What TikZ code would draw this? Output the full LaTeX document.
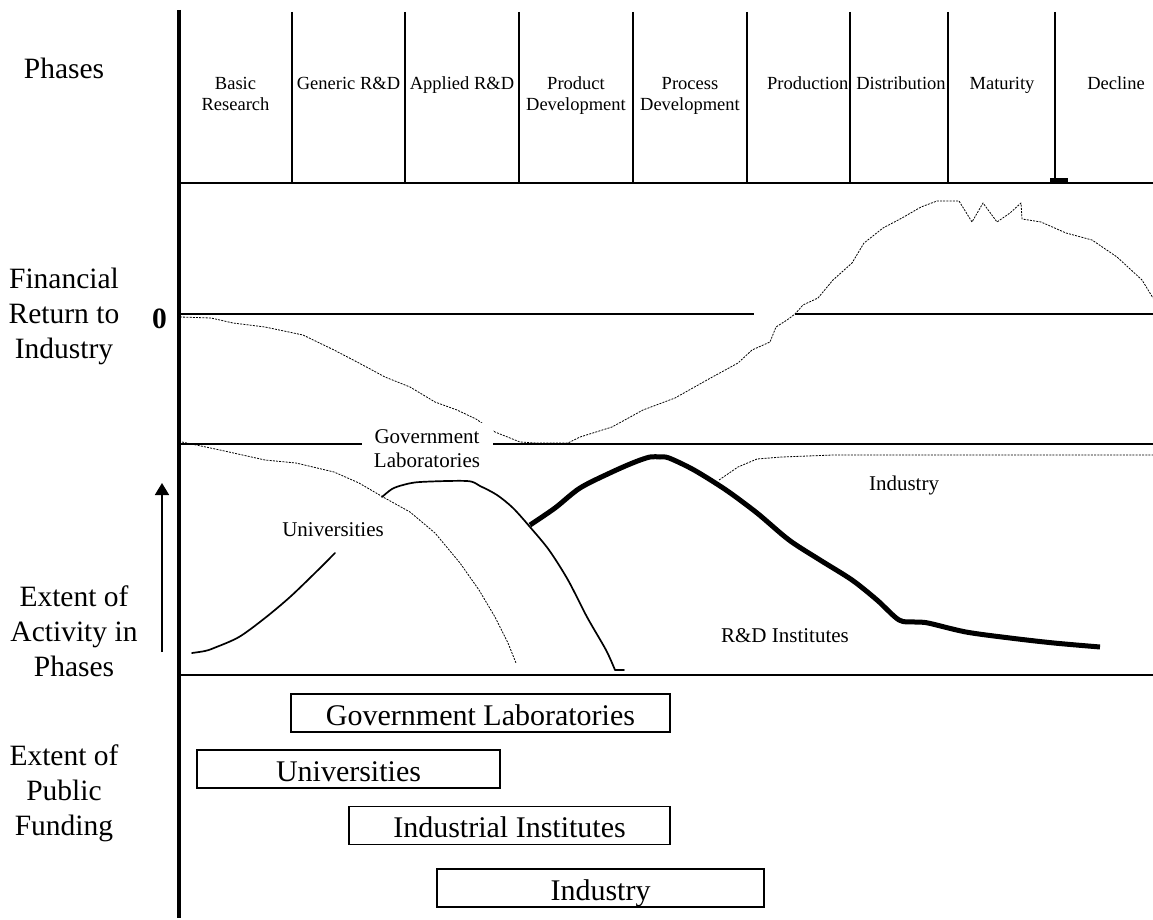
\documentclass[tikz,border=0pt]{standalone}
\usepackage{fontspec}
\setmainfont{Liberation Serif}
\usetikzlibrary{arrows.meta}
\begin{document}
\begin{tikzpicture}[x=1pt,y=-1pt,
  axisline/.style={line width=4pt},
  panelline/.style={line width=2.6pt},
  divline/.style={line width=2pt},
  fincurve/.style={line width=0.8pt, dash pattern=on 2pt off 1.2pt, line join=round},
  solidcurve/.style={line width=1.7pt, line join=round, line cap=round},
  thickcurve/.style={line width=5pt, line join=round},
  phaselbl/.style={inner sep=0pt, align=center, font=\fontsize{18.5}{21.7}\selectfont, anchor=north},
  sidelbl/.style={inner sep=0pt, align=center, font=\fontsize{29.5}{35}\selectfont, anchor=north},
  curvelbl/.style={inner sep=0pt, font=\fontsize{21}{24}\selectfont, anchor=base},
  fundbox/.style={draw, line width=1.4pt, inner sep=0pt, minimum height=38pt, text height=24pt, text depth=0pt, font=\fontsize{30}{30}\selectfont}
]
\useasboundingbox (0,0) rectangle (1153,920);

% main axis and panel lines
\draw[axisline] (179,10) -- (179,918);
\draw[panelline] (179,183) -- (1153,183);
\draw[panelline] (179,314) -- (754,314);
\draw[panelline] (795,314) -- (1153,314);
\draw[panelline] (179,444) -- (1153,444);
\draw[panelline] (179,675) -- (1153,675);

% phase dividers
\foreach \xx in {292,405,519,633,747,850,948,1055}
  \draw[divline] (\xx,12) -- (\xx,183);
\fill (1050,178) rectangle (1068,184);

% phase labels
\node[phaselbl] (basic) at (235.5,73.8) {\strut Basic\\Research};
\node[phaselbl] (generic) at (348.5,73.8) {\strut Generic R\&D};
\node[phaselbl] (applied) at (462,73.8) {\strut Applied R\&D};
\node[phaselbl] (product) at (576,73.8) {\strut Product\\Development};
\node[phaselbl] (process) at (690,73.8) {\strut Process\\Development};
\begin{scope}
  \clip (748,20) rectangle (848.6,180);
  \node[phaselbl, anchor=north west] (production) at (767,73.8) {\strut Production};
\end{scope}
\node[phaselbl] (distribution) at (901,73.8) {\strut Distribution};
\node[phaselbl] (maturity) at (1002,73.8) {\strut Maturity};
\node[phaselbl] (decline) at (1116,73.8) {\strut Decline};

% side labels
\node[inner sep=0pt, font=\fontsize{29.5}{35}\selectfont, anchor=base] (phases) at (64,79) {Phases};
\node[sidelbl] (financial) at (64,263.5) {\strut Financial\\Return to\\Industry};
\node[inner sep=0pt, font=\fontsize{29.5}{35}\bfseries\selectfont, anchor=base] (zero) at (159.5,328) {0};
\node[sidelbl] (activity) at (74,582.2) {\strut Extent of\\Activity in\\Phases};
\node[sidelbl] (funding) at (64,740.5) {\strut Extent of\\Public\\Funding};

% activity arrow
\coordinate (arrS) at (162,652);
\coordinate (arrE) at (162,483);
\draw[line width=1.8pt, -{Triangle[width=14pt,length=12pt]}] (arrS) -- (arrE);

% financial return curve
\draw[fincurve] (180,317) -- (211,318) -- (233,323) -- (265,327) -- (303,335) -- (334,350) -- (359,363) -- (385,377) -- (410,387) -- (435,402) -- (457,410) -- (476,419) -- (495,432) -- (520,442) -- (536,443) -- (568,443) -- (580,437) -- (612,427) -- (643,410) -- (675,398) -- (707,380) -- (738,363) -- (752,350) -- (770,342) -- (776,327) -- (787,320) -- (795,314) -- (803,305) -- (818,298) -- (833,280) -- (852,263) -- (864,243) -- (883,228) -- (902,218) -- (921,207) -- (937,201) -- (959,201) -- (972,222) -- (983,203) -- (997,222) -- (1010,213) -- (1021,203) -- (1022,219) -- (1041,222) -- (1066,233) -- (1092,240) -- (1117,257) -- (1142,280) -- (1153,298);

% universities dashed curve
\draw[fincurve] (182,442) -- (220,450) -- (265,460) -- (296,463) -- (334,472) -- (359,483) -- (383,497) -- (410,512) -- (435,533) -- (460,563) -- (479,590) -- (495,617) -- (508,643) -- (516,663);

% industry dashed curve
\draw[fincurve] (719,480) -- (738,467) -- (757,459) -- (782,457) -- (833,455) -- (1153,455);

% government laboratories curve
\draw[solidcurve] plot[smooth, tension=0.5] coordinates {(382,497) (392,489) (403,485) (420,482) (467,481) (480,486) (497,495) (513,508) (530,527) (549,550) (568,580) (587,617) (606,650) (615,670)} -- (624,670);

% universities solid curve
\draw[solidcurve] plot[smooth, tension=0.5] coordinates {(192,653) (205,651) (214,648) (239,637) (265,618) (290,597) (315,573) (335,553)};

% R&D institutes thick curve
\draw[thickcurve] plot[smooth, tension=0.5] coordinates {(530,525) (555,508) (580,488) (612,472) (635,462) (650,457) (660,457) (669,458) (694,470) (726,490) (757,513) (789,540) (820,560) (852,580) (877,600) (899,620) (915,622) (928,623) (966,632) (1010,638) (1054,643) (1100,647)};

% curve labels
\node[inner sep=0pt, fill=white, align=center, font=\fontsize{21}{24}\selectfont, anchor=north, minimum width=131pt, inner ysep=3pt] (govlab) at (427,423.2) {\strut Government\\Laboratories};
\node[curvelbl] (univlbl) at (333,536) {Universities};
\node[curvelbl] (indlbl) at (904,490) {Industry};
\node[curvelbl] (rdlbl) at (785,642) {R\&D Institutes};

% public funding boxes
\node[fundbox, minimum width=379pt] (fgov) at (480.5,713) {Government Laboratories};
\node[fundbox, minimum width=303pt] (funiv) at (348.5,769) {Universities};
\node[fundbox, minimum width=321pt] (finst) at (509.5,825.5) {Industrial Institutes};
\node[fundbox, minimum width=327pt] (find) at (600.5,888) {Industry};
\end{tikzpicture}
\end{document}
